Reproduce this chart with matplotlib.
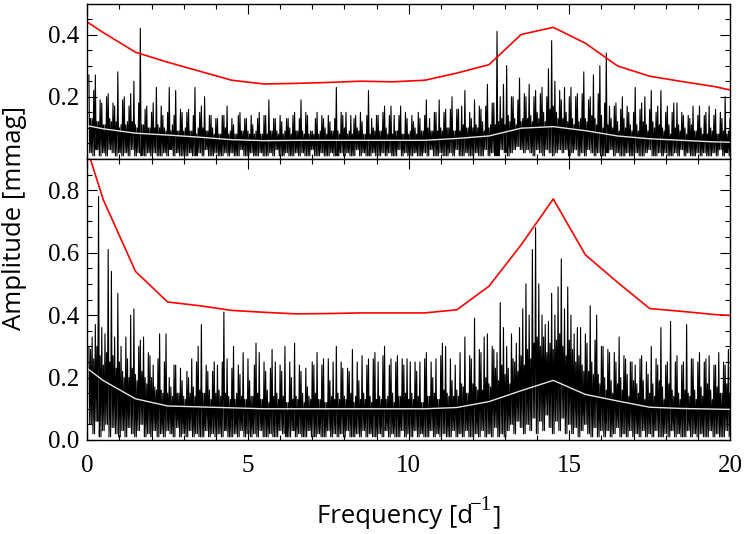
import numpy as np
import matplotlib
matplotlib.use("Agg")
import matplotlib.pyplot as plt

# binned noise levels, 1 c/d bins
binFreq = [0, 0.5, 1.5, 2.5, 3.5, 4.5, 5.5, 6.5, 7.5, 8.5, 9.5, 10.5, 11.5, 12.5, 13.5, 14.5, 15.5, 16.5, 17.5, 18.5, 19.5, 20]
redTop = [0.44, 0.406, 0.343, 0.311, 0.282, 0.253, 0.241, 0.243, 0.246, 0.25, 0.248, 0.253, 0.276, 0.303, 0.40, 0.423, 0.372, 0.299, 0.266, 0.249, 0.233, 0.222]
whiteTop = [0.107, 0.097, 0.083, 0.077, 0.07, 0.062, 0.059, 0.06, 0.06, 0.06, 0.06, 0.06, 0.066, 0.074, 0.099, 0.104, 0.091, 0.074, 0.065, 0.06, 0.055, 0.054]
redBottom = [0.93, 0.769, 0.54, 0.442, 0.43, 0.415, 0.409, 0.404, 0.405, 0.407, 0.407, 0.407, 0.417, 0.4925, 0.625, 0.772, 0.593, 0.505, 0.421, 0.412, 0.402, 0.399]
whiteBottom = [0.229, 0.19, 0.132, 0.109, 0.106, 0.103, 0.1, 0.1, 0.1, 0.1, 0.1, 0.1, 0.104, 0.123, 0.158, 0.191, 0.146, 0.125, 0.105, 0.101, 0.099, 0.098]

# spectrum read per 0.1 c/d: tallest spike, lowest dip, height of the dark core
peaksTop = [
    .27, .13, .27, .12, .18, .11, .21, .12, .17, .28,
    .11, .20, .12, .21, .25, .10, .42, .11, .17, .10,
    .18, .23, .10, .14, .09, .23, .11, .22, .09, .15,
    .10, .16, .09, .23, .10, .17, .20, .09, .14, .08,
    .13, .08, .14, .17, .09, .11, .08, .15, .09, .13,
    .08, .11, .09, .15, .08, .14, .19, .09, .13, .08,
    .12, .09, .13, .08, .15, .09, .19, .08, .14, .09,
    .08, .15, .09, .13, .08, .12, .09, .23, .08, .14,
    .15, .09, .08, .14, .09, .12, .08, .22, .13, .09,
    .14, .09, .17, .08, .17, .14, .09, .17, .08, .13,
    .09, .12, .08, .13, .09, .19, .13, .09, .15, .19,
    .09, .16, .10, .20, .09, .16, .17, .22, .10, .13,
    .19, .10, .16, .09, .24, .11, .18, .41, .20, .24,
    .30, .12, .20, .11, .26, .13, .20, .24, .12, .22,
    .13, .23, .12, .29, .38, .25, .13, .19, .23, .12,
    .23, .11, .21, .13, .28, .12, .20, .27, .11, .30,
    .10, .34, .17, .10, .18, .09, .20, .10, .15, .09,
    .23, .09, .18, .20, .09, .22, .10, .17, .22, .09,
    .17, .08, .18, .18, .09, .14, .08, .13, .17, .09,
    .17, .08, .15, .17, .09, .16, .08, .13, .20, .09]
dipsTop = [
    .02, .01, .03, .01, .02, .01, .03, .02, .01, .02,
    .01, .02, .01, .03, .01, .02, .01, .01, .02, .01,
    .02, .01, .01, .02, .01, .03, .01, .02, .01, .01,
    .01, .02, .01, .01, .02, .01, .03, .01, .01, .02,
    .01, .01, .02, .01, .02, .01, .01, .03, .01, .01,
    .02, .01, .01, .02, .01, .01, .02, .01, .03, .01,
    .01, .02, .01, .01, .02, .01, .02, .01, .01, .03,
    .01, .01, .02, .01, .01, .02, .01, .01, .02, .01,
    .02, .01, .01, .03, .01, .02, .01, .01, .02, .01,
    .01, .02, .01, .02, .01, .01, .03, .01, .02, .01,
    .01, .02, .01, .01, .02, .01, .03, .01, .01, .02,
    .01, .01, .02, .01, .03, .01, .01, .02, .01, .01,
    .02, .01, .01, .03, .01, .02, .01, .01, .03, .02,
    .01, .02, .03, .04, .03, .02, .03, .02, .01, .03,
    .02, .01, .03, .02, .01, .02, .03, .02, .03, .01,
    .02, .03, .01, .02, .01, .03, .02, .01, .02, .01,
    .01, .02, .03, .01, .02, .01, .01, .02, .01, .01,
    .02, .01, .01, .02, .03, .01, .01, .02, .01, .02,
    .01, .01, .02, .01, .03, .01, .02, .01, .01, .02,
    .01, .02, .01, .01, .02, .01, .03, .01, .02, .01]
coreTop = [
    .13, .22, .12, .19, .11, .20, .13, .18, .12, .10,
    .19, .11, .17, .12, .11, .18, .11, .16, .10, .15,
    .10, .11, .17, .10, .15, .09, .14, .09, .16, .09,
    .15, .09, .14, .08, .15, .10, .09, .14, .10, .13,
    .08, .14, .10, .08, .13, .08, .14, .09, .13, .09,
    .14, .08, .13, .08, .14, .08, .09, .13, .09, .14,
    .08, .13, .10, .14, .09, .13, .09, .15, .08, .09,
    .13, .08, .14, .10, .14, .09, .13, .09, .15, .10,
    .08, .14, .13, .10, .15, .08, .14, .08, .10, .14,
    .09, .15, .10, .14, .08, .09, .14, .08, .15, .08,
    .14, .10, .15, .09, .14, .10, .09, .15, .09, .10,
    .15, .10, .16, .09, .16, .09, .11, .10, .15, .10,
    .11, .17, .12, .17, .10, .18, .11, .12, .13, .11,
    .14, .20, .13, .19, .12, .21, .13, .14, .20, .15,
    .21, .15, .20, .16, .17, .15, .22, .13, .15, .20,
    .13, .20, .12, .21, .13, .19, .14, .13, .21, .14,
    .18, .11, .13, .17, .12, .16, .13, .17, .11, .15,
    .11, .16, .12, .11, .16, .12, .15, .11, .10, .15,
    .11, .15, .10, .11, .15, .10, .14, .11, .09, .14,
    .10, .14, .08, .10, .14, .08, .15, .09, .08, .13]

peaksBottom = [
    .30, .33, .37, .78, .36, .34, .61, .54, .33, .47,
    .30, .20, .26, .40, .42, .19, .32, .33, .18, .27,
    .24, .16, .34, .15, .34, .20, .14, .24, .15, .19,
    .13, .20, .26, .14, .30, .37, .15, .22, .13, .25,
    .24, .14, .41, .26, .13, .30, .15, .21, .28, .13,
    .19, .14, .31, .28, .13, .22, .12, .29, .25, .13,
    .22, .30, .12, .20, .31, .13, .22, .12, .17, .13,
    .24, .28, .13, .26, .12, .19, .25, .30, .13, .23,
    .13, .22, .29, .14, .19, .27, .13, .26, .12, .28,
    .25, .13, .30, .14, .26, .12, .27, .14, .24, .26,
    .25, .13, .22, .25, .12, .28, .14, .20, .26, .13,
    .31, .30, .14, .19, .24, .14, .18, .33, .15, .26,
    .39, .16, .28, .33, .34, .17, .29, .28, .44, .36,
    .30, .18, .26, .31, .36, .42, .50, .40, .61, .68,
    .50, .40, .37, .38, .47, .40, .49, .58, .42, .49,
    .40, .34, .36, .36, .22, .31, .43, .21, .40, .18,
    .30, .16, .28, .15, .25, .33, .16, .26, .14, .25,
    .24, .15, .27, .13, .21, .30, .14, .24, .36, .13,
    .25, .38, .14, .27, .13, .25, .37, .14, .26, .13,
    .28, .14, .26, .27, .13, .24, .28, .15, .24, .29]
dipsBottom = [
    .05, .02, .06, .01, .03, .05, .01, .04, .02, .01,
    .03, .01, .04, .02, .01, .03, .05, .01, .02, .01,
    .03, .01, .02, .01, .03, .02, .01, .04, .01, .02,
    .01, .03, .01, .02, .01, .01, .03, .01, .02, .01,
    .02, .01, .03, .01, .01, .02, .01, .03, .01, .02,
    .01, .02, .01, .03, .01, .01, .02, .01, .01, .03,
    .02, .01, .01, .03, .01, .02, .01, .01, .03, .01,
    .01, .02, .01, .01, .03, .01, .02, .01, .02, .01,
    .03, .01, .01, .02, .01, .03, .01, .02, .01, .01,
    .02, .01, .03, .01, .02, .01, .01, .03, .01, .02,
    .01, .03, .01, .02, .01, .01, .03, .01, .02, .01,
    .02, .01, .01, .03, .01, .02, .01, .03, .01, .01,
    .02, .01, .03, .01, .02, .01, .04, .01, .02, .01,
    .03, .05, .02, .06, .04, .02, .05, .03, .07, .02,
    .06, .03, .08, .04, .02, .06, .03, .07, .02, .05,
    .02, .04, .01, .03, .05, .02, .01, .04, .01, .03,
    .01, .03, .01, .02, .04, .01, .02, .01, .03, .01,
    .02, .01, .03, .01, .02, .01, .03, .01, .01, .02,
    .01, .03, .01, .02, .01, .01, .03, .01, .02, .01,
    .02, .01, .01, .03, .01, .02, .01, .01, .03, .01]
coreBottom = [
    .29, .26, .30, .27, .24, .28, .25, .27, .23, .25,
    .22, .33, .20, .23, .21, .30, .22, .20, .28, .20,
    .17, .26, .16, .25, .15, .17, .24, .15, .23, .14,
    .22, .15, .17, .25, .16, .15, .24, .16, .22, .15,
    .16, .25, .15, .14, .23, .13, .24, .14, .13, .26,
    .14, .24, .15, .13, .25, .16, .23, .14, .15, .24,
    .14, .12, .25, .13, .14, .24, .15, .23, .14, .25,
    .15, .13, .24, .12, .26, .14, .13, .15, .25, .14,
    .23, .15, .12, .25, .13, .15, .24, .14, .26, .13,
    .14, .27, .13, .24, .15, .25, .14, .26, .15, .13,
    .15, .25, .14, .12, .26, .14, .25, .15, .13, .27,
    .16, .15, .26, .14, .16, .28, .17, .15, .27, .18,
    .17, .29, .16, .20, .18, .30, .23, .19, .24, .21,
    .23, .34, .25, .22, .27, .24, .29, .26, .31, .33,
    .30, .33, .28, .31, .29, .32, .34, .30, .27, .32,
    .29, .25, .27, .24, .34, .22, .25, .32, .21, .30,
    .20, .29, .19, .28, .18, .20, .27, .21, .25, .19,
    .18, .26, .19, .25, .15, .18, .26, .19, .17, .24,
    .18, .16, .25, .15, .24, .16, .15, .26, .16, .25,
    .17, .25, .18, .16, .24, .17, .15, .25, .18, .15]

plt.rcParams["font.family"] = "Liberation Serif"
plt.rcParams["path.simplify"] = False


def plotPanel(ax, peaks, dips, core, red, white, ylim):
    amp = np.column_stack([peaks, dips, core, dips]).ravel()
    freq = 0.05 + 0.025 * np.arange(amp.size)
    ax.plot(freq, amp, color="black", lw=0.8, snap=False)
    ax.plot(binFreq, white, color="white", lw=1.0, alpha=0.9)
    ax.plot(binFreq, red, color="red", lw=1.2)
    ax.set_xlim(0, 20)
    ax.set_ylim(*ylim)
    ax.set_xticks(np.arange(0, 21, 5))
    ax.set_xticks(np.arange(0, 21, 1), minor=True)
    ax.set_yticks(np.arange(0, ylim[1], 0.2))
    ax.set_yticks(np.arange(0, ylim[1], 0.05), minor=True)
    ax.tick_params(which="major", direction="in", top=True, right=True, length=7.5, width=0.8, labelsize=18)
    ax.tick_params(which="minor", direction="in", top=True, right=True, length=3.6, width=0.8)
    ax.tick_params(axis="y", which="major", pad=6)
    ax.tick_params(axis="x", which="major", pad=11)
    for spine in ax.spines.values():
        spine.set_linewidth(1.0)


fig = plt.figure(figsize=(7.47, 5.34), dpi=100)
axTop = fig.add_axes([87.3 / 747, 1 - 159 / 534, (730 - 87.3) / 747, 155 / 534])
axBottom = fig.add_axes([87.3 / 747, 1 - 440 / 534, (730 - 87.3) / 747, 281 / 534])

plotPanel(axTop, peaksTop, dipsTop, coreTop, redTop, whiteTop, (0, 0.498))
plotPanel(axBottom, peaksBottom, dipsBottom, coreBottom, redBottom, whiteBottom, (0, 0.9))

axTop.set_yticks([0.2, 0.4])
axTop.tick_params(axis="x", labelbottom=False)
axBottom.set_yticks([0, 0.2, 0.4, 0.6, 0.8])
axBottom.set_yticklabels(["0.0", "0.2", "0.4", "0.6", "0.8"])
axBottom.set_xticklabels(["0", "5", "10", "15", "20"])

# label pieces set by hand, the exponent is serif in the original
fig.text(317 / 747, 1 - 523 / 534, "Frequency [d", family="Open Sans", fontsize=18.5, ha="left", va="baseline")
fig.text(470 / 747, 1 - 510 / 534, "\u22121", family="Liberation Serif", fontsize=15, ha="left", va="baseline")
fig.text(492 / 747, 1 - 523 / 534, "]", family="Open Sans", fontsize=18.5, ha="left", va="baseline")
fig.text(15 / 747, 1 - 218 / 534, "Amplitude [mmag]", family="Open Sans", fontsize=18.5, rotation=90, ha="center", va="center")

fig.savefig("out.png", dpi=100)
